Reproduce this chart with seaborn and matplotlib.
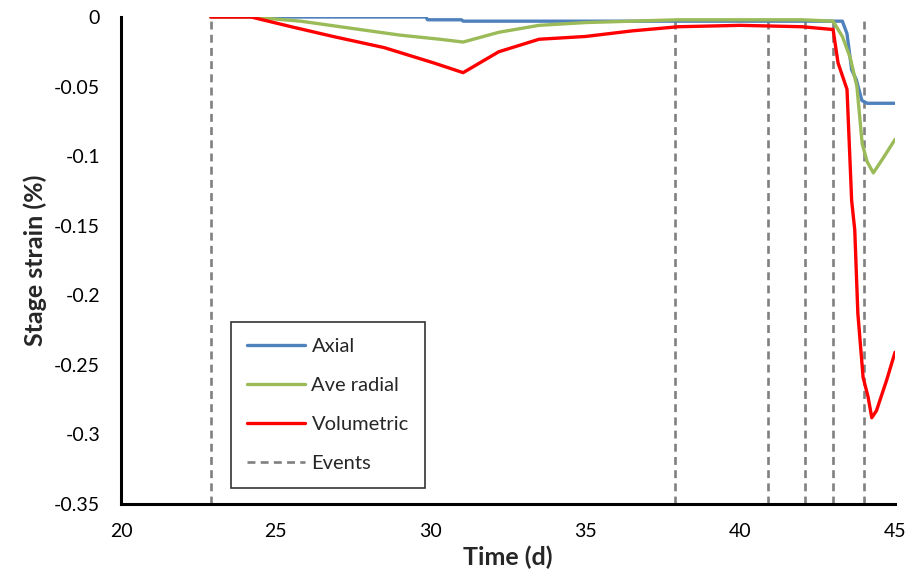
import matplotlib
matplotlib.use("Agg")
import matplotlib.pyplot as plt
import seaborn as sns
import pandas as pd
import numpy as np

# ---- data ----
axial_t = [22.9, 29.85, 29.9, 31.0, 31.05, 34.0, 43.3, 43.45, 43.6, 43.75, 43.93, 44.1, 45.0]
axial_v = [0.0, 0.0, -0.002, -0.002, -0.003, -0.003, -0.003, -0.012, -0.038, -0.045, -0.060, -0.062, -0.062]

radial_t = [22.9, 24.2, 25.8, 27.4, 29.0, 30.3, 31.05, 32.2, 33.5, 35.0, 36.5, 38.0, 40.0, 42.0, 43.0,
            43.3, 43.55, 43.77, 43.94, 44.1, 44.3, 44.6, 45.0]
radial_v = [0.0, 0.0, -0.003, -0.008, -0.013, -0.016, -0.018, -0.011, -0.006, -0.004, -0.003, -0.002, -0.002, -0.002, -0.003,
            -0.014, -0.029, -0.050, -0.091, -0.104, -0.112, -0.102, -0.088]

vol_t = [22.9, 24.2, 25.5, 26.85, 28.5, 30.1, 31.05, 32.2, 33.5, 35.0, 36.5, 38.0, 40.0, 42.0, 43.0,
         43.16, 43.45, 43.6, 43.7, 43.8, 43.97, 44.13, 44.25, 44.4, 44.73, 45.0]
vol_v = [0.0, 0.0, -0.007, -0.014, -0.022, -0.033, -0.040, -0.025, -0.016, -0.014, -0.010, -0.007, -0.006, -0.007, -0.009,
         -0.033, -0.052, -0.132, -0.153, -0.213, -0.259, -0.273, -0.288, -0.283, -0.261, -0.241]

event_times = [22.9, 37.9, 40.9, 42.1, 43.0, 44.0]

x_ticks = [20, 25, 30, 35, 40, 45]
y_ticks = [0, -0.05, -0.1, -0.15, -0.2, -0.25, -0.3, -0.35]
y_tick_labels = ["0", "-0.05", "-0.1", "-0.15", "-0.2", "-0.25", "-0.3", "-0.35"]

series_names = ["Axial", "Ave radial", "Volumetric"]
series_colors = ["#4F81BD", "#9BBB59", "#FF0000"]

df = pd.concat([
    pd.DataFrame({"Time": axial_t, "Strain": axial_v, "Series": "Axial"}),
    pd.DataFrame({"Time": radial_t, "Strain": radial_v, "Series": "Ave radial"}),
    pd.DataFrame({"Time": vol_t, "Strain": vol_v, "Series": "Volumetric"}),
], ignore_index=True)

sns.set_style("white")
plt.rcParams["font.family"] = ["Lato", "DejaVu Sans"]

fig = plt.figure(figsize=(9.22, 5.77), dpi=100)
ax = fig.add_axes([121 / 922, 1 - 504 / 577, 774 / 922, 487 / 577])

sns.lineplot(data=df, x="Time", y="Strain", hue="Series", hue_order=series_names,
             palette=series_colors, linewidth=2.4, ax=ax, sort=False, estimator=None)

for i, t in enumerate(event_times):
    ax.axvline(t, color="#808080", linestyle=(0, (3.0, 2.0)), linewidth=1.9,
               label="Events" if i == 0 else None, zorder=1)

ax.set_xlim(20, 45)
ax.set_ylim(-0.35, 0)
ax.set_xticks(x_ticks)
ax.set_xticklabels([str(v) for v in x_ticks])
ax.set_yticks(y_ticks)
ax.set_yticklabels(y_tick_labels)
ax.tick_params(axis="both", labelsize=14, direction="out", length=5, width=1.5,
               color="black", labelcolor="black")
ax.tick_params(axis="x", pad=9)
ax.tick_params(axis="y", pad=10)

for s in ["top", "right"]:
    ax.spines[s].set_visible(False)
for s in ["left", "bottom"]:
    ax.spines[s].set_color("black")
    ax.spines[s].set_linewidth(2.2)

ax.set_xlabel("Time (d)", fontsize=18, fontweight="bold", labelpad=4)
ax.set_ylabel("Stage strain (%)", fontsize=18, fontweight="bold", labelpad=5)

handles, labels = ax.get_legend_handles_labels()
leg = ax.legend(handles, labels, loc="upper left", bbox_to_anchor=(0.142, 0.374),
                borderaxespad=0, frameon=True, fancybox=False, edgecolor="black",
                fontsize=14.5, handlelength=2.9, labelspacing=1.08, borderpad=0.8,
                handletextpad=0.3)
leg.get_frame().set_linewidth(1.2)

fig.savefig("out.png", dpi=100)
